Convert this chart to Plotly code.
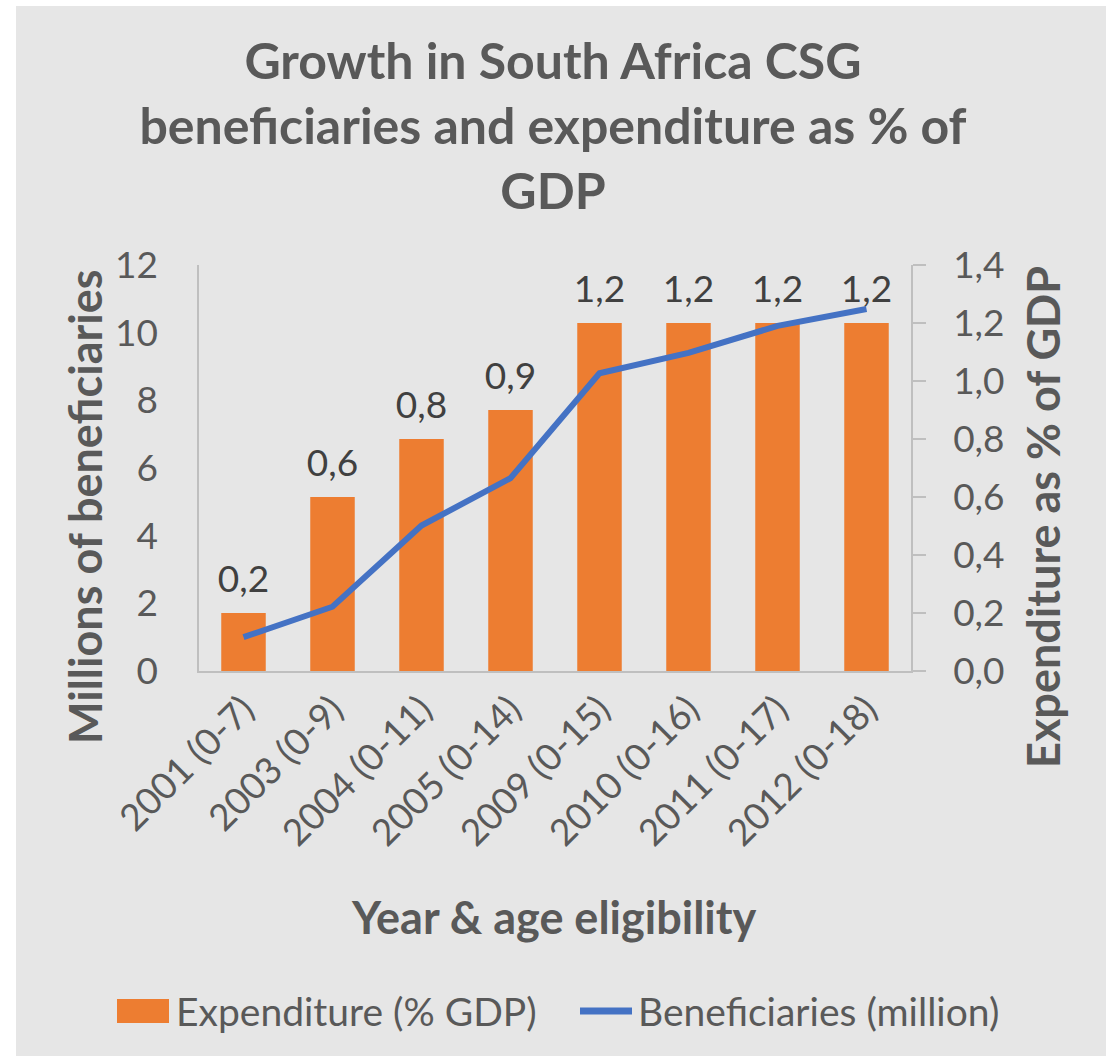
import plotly.graph_objects as go

categories = ["2001 (0-7)", "2003 (0-9)", "2004 (0-11)", "2005 (0-14)",
              "2009 (0-15)", "2010 (0-16)", "2011 (0-17)", "2012 (0-18)"]
expenditure = [0.2, 0.6, 0.8, 0.9, 1.2, 1.2, 1.2, 1.2]
beneficiaries = [1.0, 1.9, 4.3, 5.7, 8.8, 9.4, 10.2, 10.7]
left_ticks = [0, 2, 4, 6, 8, 10, 12]
right_ticks = [0.0, 0.2, 0.4, 0.6, 0.8, 1.0, 1.2, 1.4]
series_names = ["Expenditure (% GDP)", "Beneficiaries (million)"]

FONT = "Lato"
GREY = "#595959"
ORANGE = "#ED7D31"
BLUE = "#4472C4"
W, H = 1106, 1056
L, R, T, B = 199, 195, 265, 385
pw, ph = W - L - R, H - T - B


def px_x(x):
    return (x - L) / pw


def px_y(y):
    return (T + ph - y) / ph


fig = go.Figure()
fig.add_trace(go.Bar(
    x=categories, y=expenditure, name=series_names[0],
    marker=dict(color=ORANGE, line=dict(width=0)), width=0.5,
    yaxis="y",
))
# value labels above the bars (transparent markers give the gap)
fig.add_trace(go.Scatter(
    x=categories, y=expenditure, yaxis="y", mode="markers+text",
    marker=dict(size=18, color="rgba(0,0,0,0)"),
    text=[f"{v:.1f}".replace(".", ",") for v in expenditure],
    textposition="top center", cliponaxis=False, hoverinfo="skip",
    textfont=dict(family=FONT, size=37, color="#404040"),
))
fig.add_trace(go.Scatter(
    x=categories, y=beneficiaries, name=series_names[1], yaxis="y2",
    mode="lines", line=dict(color=BLUE, width=6),
))

shapes = [
    dict(type="rect", xref="paper", yref="paper",
         x0=px_x(16), x1=px_x(W + 2), y0=px_y(H + 2), y1=px_y(6),
         fillcolor="#E6E6E6", line=dict(width=0), layer="below"),
    # legend swatches
    dict(type="rect", xref="paper", yref="paper",
         x0=px_x(117), x1=px_x(169), y0=px_y(1023), y1=px_y(999),
         fillcolor=ORANGE, line=dict(width=0)),
    dict(type="line", xref="paper", yref="paper",
         x0=px_x(580), x1=px_x(632), y0=px_y(1011), y1=px_y(1011),
         line=dict(color=BLUE, width=7)),
]
annotations = [
    dict(text=series_names[0], xref="paper", yref="paper",
         x=px_x(174), y=px_y(1011), xanchor="left", yanchor="middle",
         showarrow=False, font=dict(family=FONT, size=39, color=GREY)),
    dict(text=series_names[1], xref="paper", yref="paper",
         x=px_x(636), y=px_y(1011), xanchor="left", yanchor="middle",
         showarrow=False, font=dict(family=FONT, size=39, color=GREY)),
    dict(text="Millions of beneficiaries", xref="paper", yref="paper",
         x=px_x(85), y=px_y(507), xanchor="center", yanchor="middle",
         textangle=-90, showarrow=False,
         font=dict(family=FONT, size=45, color=GREY, weight="bold")),
    dict(text="Expenditure as % of GDP", xref="paper", yref="paper",
         x=px_x(1043), y=px_y(517), xanchor="center", yanchor="middle",
         textangle=-90, showarrow=False,
         font=dict(family=FONT, size=45, color=GREY, weight="bold")),
    dict(text="Year & age eligibility", xref="paper", yref="paper",
         x=px_x(554), y=px_y(917), xanchor="center", yanchor="middle",
         showarrow=False,
         font=dict(family=FONT, size=45, color=GREY, weight="bold")),
]

fig.update_layout(
    width=W, height=H,
    margin=dict(l=L, r=R, t=T, b=B),
    paper_bgcolor="white", plot_bgcolor="rgba(0,0,0,0)",
    separators=",.",
    showlegend=False,
    font=dict(family=FONT, color=GREY),
    title=dict(text="Growth in South Africa CSG<br>beneficiaries and expenditure as % of<br>GDP",
               x=0.5, xanchor="center", y=1 - 79 / H, yanchor="middle",
               font=dict(family=FONT, size=50, color=GREY, weight="bold")),
    xaxis=dict(tickangle=-45, tickfont=dict(size=37, color=GREY),
               range=[-0.5, len(categories) - 0.5],
               showline=True, linecolor="#BFBFBF", linewidth=1.5, ticks="",
               showgrid=False),
    yaxis=dict(range=[0, 1.4], tickvals=right_ticks, tickformat=".1f",
               side="right", showgrid=False, zeroline=False,
               showline=True, linecolor="#BFBFBF", linewidth=1.5,
               ticks="outside", ticklen=13, tickcolor="#BFBFBF", tickwidth=1.5,
               ticklabelstandoff=20,
               tickfont=dict(size=37, color=GREY)),
    yaxis2=dict(range=[0, 12], tickvals=left_ticks, overlaying="y", side="left",
                showgrid=False, zeroline=False,
                showline=True, linecolor="#BFBFBF", linewidth=1.5, ticks="",
                ticklabelstandoff=32,
                tickfont=dict(size=37, color=GREY)),
    bargap=0.5,
    shapes=shapes,
    annotations=annotations,
)

fig.write_html("out.html")
